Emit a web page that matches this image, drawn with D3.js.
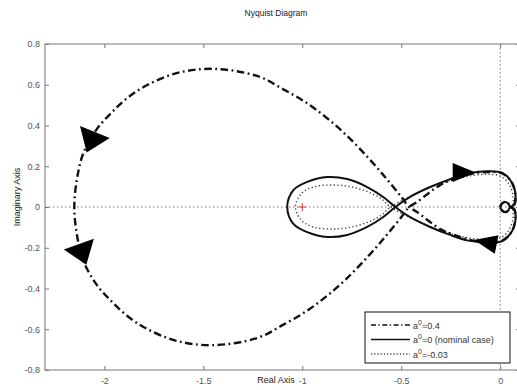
<!DOCTYPE html>
<html>
<head>
<meta charset="utf-8">
<script src="https://cdn.jsdelivr.net/npm/d3@7"></script>
<style>
  html, body { margin: 0; padding: 0; background: #fff; }
  svg { display: block; font-family: "Liberation Sans", Arial, sans-serif; }
</style>
</head>
<body>
<svg id="chart" width="517" height="390"></svg>
<script>
// Positive-frequency branch of each Nyquist locus (real / imaginary parts).
// The negative-frequency branch is its complex conjugate.
const nominalRe = [-1.076, -1.045, -0.975, -0.874, -0.773, -0.672, -0.591, -0.53, -0.455, -0.354, -0.253, -0.16, -0.06, 0.01, 0.06, 0.078, 0.07, 0.05, 0.04, 0.025, 0.01, 0.002, 0];
const nominalIm = [0, -0.083, -0.123, -0.147, -0.137, -0.098, -0.049, 0, 0.05, 0.098, 0.137, 0.165, 0.175, 0.167, 0.118, 0.05, 0.01, 0, -0.018, -0.025, -0.018, -0.006, 0];

const negRe = [-1.035, -1.005, -0.945, -0.85, -0.76, -0.67, -0.6, -0.555, -0.47, -0.37, -0.27, -0.17, -0.07, 0.0, 0.045, 0.065, 0.062, 0.05, 0.04, 0.025, 0.01, 0.002, 0];
const negIm = [0, -0.065, -0.098, -0.108, -0.1, -0.075, -0.04, 0, 0.045, 0.09, 0.125, 0.15, 0.16, 0.152, 0.112, 0.05, 0.01, 0, -0.018, -0.025, -0.018, -0.006, 0];

const posRe = [-2.152, -2.138, -2.106, -2.04, -1.965, -1.884, -1.783, -1.631, -1.449, -1.225, -1.1, -0.985, -0.88, -0.78, -0.67, -0.58, -0.5, -0.46, -0.42, -0.3, -0.237, -0.16, -0.06, 0.01, 0.06, 0.077, 0.07, 0.05, 0.04, 0.025, 0.01, 0.002, 0];
const posIm = [0, -0.14, -0.265, -0.38, -0.462, -0.535, -0.599, -0.658, -0.678, -0.642, -0.58, -0.515, -0.44, -0.355, -0.245, -0.145, -0.05, 0, 0.025, 0.11, 0.135, 0.16, 0.172, 0.165, 0.118, 0.05, 0.01, 0, -0.018, -0.025, -0.018, -0.006, 0];

// Direction arrows: point on the locus and direction of increasing frequency.
const arrowCurve = ["pos", "pos", "nominal", "nominal"];
const arrowRe  = [-2.048, -2.129, -0.24, -0.018];
const arrowIm  = [0.368, -0.182, 0.169, -0.184];
const arrowDRe = [-0.38, 0.35, 1, -0.98];
const arrowDIm = [-0.92, -0.94, 0, 0.19];

// Axes
const xTicks = [-2, -1.5, -1, -0.5, 0];
const xTickLabels = ["-2", "-1.5", "-1", "-0.5", "0"];
const yTicks = [-0.8, -0.6, -0.4, -0.2, 0, 0.2, 0.4, 0.6, 0.8];
const yTickLabels = ["-0.8", "-0.6", "-0.4", "-0.2", "0", "0.2", "0.4", "0.6", "0.8"];

const legendLabels = [["a", "0", "=0.4"], ["a", "0", "=0 (nominal case)"], ["a", "0", "=-0.03"]];

const svg = d3.select("#chart");
const plot = { left: 45, right: 520, top: 44, bottom: 370 };

const x = d3.scaleLinear().domain([-2.3, 0.1]).range([plot.left, plot.right]);
const y = d3.scaleLinear().domain([-0.8, 0.8]).range([plot.bottom, plot.top]);

svg.append("defs").append("clipPath").attr("id", "clip")
  .append("rect")
  .attr("x", plot.left).attr("y", plot.top)
  .attr("width", plot.right - plot.left).attr("height", plot.bottom - plot.top);

// Title
svg.append("text")
  .attr("x", 276).attr("y", 16)
  .attr("text-anchor", "middle")
  .attr("font-size", 8.5)
  .attr("fill", "#222")
  .text("Nyquist Diagram");

const g = svg.append("g");

// Zero lines
g.append("line")
  .attr("x1", plot.left).attr("x2", plot.right)
  .attr("y1", y(0)).attr("y2", y(0))
  .attr("stroke", "#777").attr("stroke-width", 1)
  .attr("stroke-dasharray", "1.5,2.5");
g.append("line")
  .attr("x1", x(0)).attr("x2", x(0))
  .attr("y1", plot.top).attr("y2", plot.bottom)
  .attr("stroke", "#777").attr("stroke-width", 1)
  .attr("stroke-dasharray", "1.5,2.5");

// Frame with inward ticks on all four sides
const frameColor = "#777";
g.append("rect")
  .attr("x", plot.left).attr("y", plot.top)
  .attr("width", plot.right - plot.left).attr("height", plot.bottom - plot.top)
  .attr("fill", "none").attr("stroke", frameColor).attr("stroke-width", 1);

const axisBottom = d3.axisBottom(x).tickValues(xTicks)
  .tickFormat((d, i) => xTickLabels[i]).tickSizeInner(-4).tickSizeOuter(0).tickPadding(8);
const axisTop = d3.axisTop(x).tickValues(xTicks).tickFormat("").tickSizeInner(-4).tickSizeOuter(0);
const axisLeft = d3.axisLeft(y).tickValues(yTicks)
  .tickFormat((d, i) => yTickLabels[i]).tickSizeInner(-4).tickSizeOuter(0).tickPadding(5);
const axisRight = d3.axisRight(y).tickValues(yTicks).tickFormat("").tickSizeInner(-4).tickSizeOuter(0);

function styleAxis(sel) {
  sel.select(".domain").remove();
  sel.selectAll(".tick line").attr("stroke", frameColor);
  sel.selectAll(".tick text").attr("fill", "#555").attr("font-size", 9)
    .attr("font-family", "Liberation Sans, Arial, sans-serif");
}
svg.append("g").attr("transform", `translate(0,${plot.bottom})`).call(axisBottom).call(styleAxis);
svg.append("g").attr("transform", `translate(0,${plot.top})`).call(axisTop).call(styleAxis);
svg.append("g").attr("transform", `translate(${plot.left},0)`).call(axisLeft).call(styleAxis);
svg.append("g").attr("transform", `translate(${plot.right},0)`).call(axisRight).call(styleAxis);

// Axis labels
svg.append("text")
  .attr("x", 276).attr("y", 383)
  .attr("text-anchor", "middle").attr("font-size", 9).attr("fill", "#222")
  .attr("stroke", "#fff").attr("stroke-width", 3).attr("paint-order", "stroke")
  .text("Real Axis");
svg.append("text")
  .attr("transform", "translate(20,197) rotate(-90)")
  .attr("text-anchor", "middle").attr("font-size", 9).attr("fill", "#222")
  .text("Imaginary Axis");

// Loci
function locus(re, im) {
  const branch = re.map((r, i) => [r, im[i]]);
  const mirror = branch.map(([r, v]) => [r, -v]).reverse();
  return mirror.concat(branch.slice(1));
}
const curves = {
  pos: locus(posRe, posIm),
  nominal: locus(nominalRe, nominalIm),
  neg: locus(negRe, negIm)
};
const curveStyle = {
  pos:     { width: 2.4, dash: "7.5,3.5,1.8,3.5", color: "#111" },
  nominal: { width: 2.0, dash: null, color: "#111" },
  neg:     { width: 1.4, dash: "1.3,2.4", color: "#444" }
};

const line = d3.line()
  .x(d => x(d[0])).y(d => y(d[1]))
  .curve(d3.curveCatmullRom.alpha(0.5));

const lines = g.append("g").attr("clip-path", "url(#clip)");
["neg", "pos", "nominal"].forEach(k => {
  const s = curveStyle[k];
  lines.append("path")
    .datum(curves[k])
    .attr("d", line)
    .attr("fill", "none")
    .attr("stroke", s.color)
    .attr("stroke-width", s.width)
    .attr("stroke-linejoin", "round")
    .attr("stroke-dasharray", s.dash);
});

// Critical point -1 + 0j
const cp = lines.append("g").attr("transform", `translate(${x(-1)},${y(0)})`);
cp.append("line").attr("x1", -4).attr("x2", 4).attr("stroke", "#e03030").attr("stroke-width", 1);
cp.append("line").attr("y1", -4).attr("y2", 4).attr("stroke", "#e03030").attr("stroke-width", 1);

// Arrowheads
const arrowSize = { pos: { base: 32, len: 22 }, nominal: { base: 19, len: 23 } };
arrowRe.forEach((r, i) => {
  const px = x(r), py = y(arrowIm[i]);
  const dx = x(r + arrowDRe[i]) - px, dy = y(arrowIm[i] + arrowDIm[i]) - py;
  const ang = Math.atan2(dy, dx) * 180 / Math.PI;
  const s = arrowSize[arrowCurve[i]];
  g.append("path")
    .attr("transform", `translate(${px},${py}) rotate(${ang})`)
    .attr("d", `M${s.len},0 L0,${-s.base / 2} L0,${s.base / 2} Z`)
    .attr("fill", "#000");
});

// Legend
const lg = svg.append("g").attr("transform", "translate(365,312)");
lg.append("rect").attr("width", 145).attr("height", 51)
  .attr("fill", "#fff").attr("stroke", "#111").attr("stroke-width", 1);
const legendKeys = ["pos", "nominal", "neg"];
legendKeys.forEach((k, i) => {
  const s = curveStyle[k];
  const yy = 13 + i * 14.5;
  lg.append("line")
    .attr("x1", 6).attr("x2", 45).attr("y1", yy).attr("y2", yy)
    .attr("stroke", s.color).attr("stroke-width", Math.min(s.width, 1.6))
    .attr("stroke-dasharray", k === "pos" ? "5,2.5,1.3,2.5" : (k === "neg" ? "1.2,2" : null));
  const t = lg.append("text").attr("x", 48).attr("y", yy + 3.5)
    .attr("font-size", 9).attr("fill", "#333");
  const lab = legendLabels[i];
  t.append("tspan").text(lab[0]);
  t.append("tspan").attr("dy", -4).attr("font-size", 7).text(lab[1]);
  t.append("tspan").attr("dy", 4).text(lab[2]);
});
</script>
</body>
</html>
